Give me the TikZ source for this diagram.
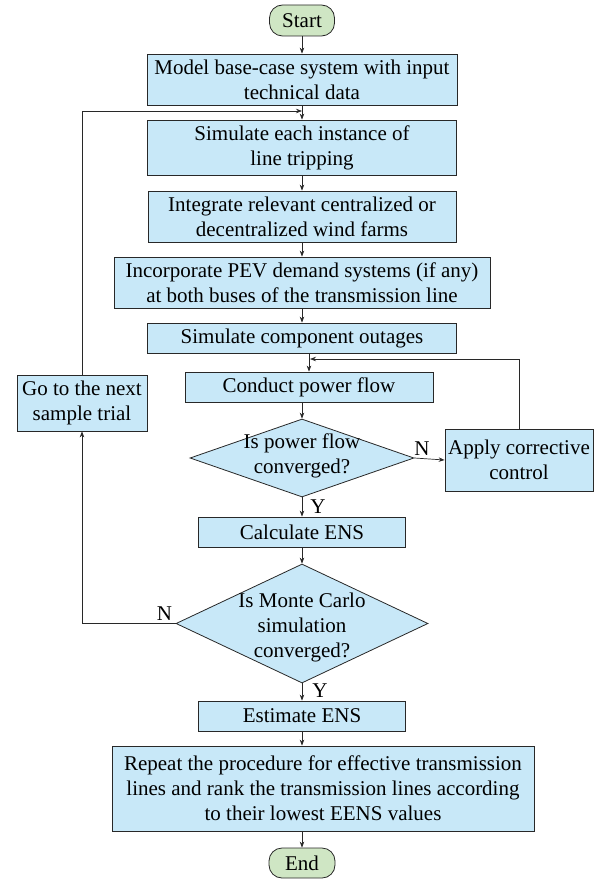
\documentclass[tikz,border=0pt]{standalone}
\usepackage{fontspec}
\setmainfont{Liberation Serif}
\usepackage{tikz}
\usetikzlibrary{arrows.meta}
\usetikzlibrary{shapes.geometric}
\usepackage{xcolor}

\definecolor{procblue}{RGB}{200,232,248}
\definecolor{termgreen}{RGB}{207,230,196}
\definecolor{edgegray}{RGB}{40,40,40}

\tikzset{
  proc/.style={draw=edgegray,line width=0.8pt,fill=procblue,align=center,inner sep=0pt},
  term/.style={proc,fill=termgreen,rounded corners=13pt},
  decision/.style={draw=edgegray,line width=0.8pt,fill=procblue,diamond,inner sep=0pt},
  flow/.style={draw=edgegray,line width=0.7pt,->},
  tag/.style={inner sep=1pt}
}

\begin{document}
\begin{tikzpicture}[x=1pt,y=-1pt,>={Stealth[length=6pt,width=4.5pt]},font=\fontsize{21}{25}\selectfont]
  \useasboundingbox (0,0) rectangle (600,880);

  \node[term,minimum width=65pt,minimum height=31pt] (start) at (302,20.5) {Start};
  \node[proc,minimum width=310pt,minimum height=51pt] (model) at (302,79.5) {Model base-case system with input\\technical data};
  \node[proc,minimum width=309pt,minimum height=55pt] (siminst) at (302,147.5) {Simulate each instance of\\line tripping};
  \node[proc,minimum width=308pt,minimum height=51pt] (integrate) at (302,216.5) {Integrate relevant centralized or\\decentralized wind farms};
  \node[proc,minimum width=376pt,minimum height=51pt] (incorporate) at (302,282.5) {Incorporate PEV demand systems (if any)\\at both buses of the transmission line};
  \node[proc,minimum width=309pt,minimum height=30pt] (simcomp) at (302,338) {Simulate component outages};
  \node[proc,minimum width=248pt,minimum height=30pt] (conduct) at (309,387) {Conduct power flow};
  \node[decision,minimum width=224pt,minimum height=78pt,
    label={[align=center,yshift=2pt]center:Is power flow\\converged?}] (pfconv) at (302,458) {};
  \node[proc,minimum width=148pt,minimum height=62pt] (apply) at (519,460) {Apply corrective\\control};
  \node[proc,minimum width=130pt,minimum height=56pt] (goto) at (82,403) {Go to the next\\sample trial};
  \node[proc,minimum width=207pt,minimum height=30pt] (calc) at (302,532) {Calculate ENS};
  \node[decision,minimum width=252pt,minimum height=119pt,
    label={[align=center,yshift=-4pt]center:Is Monte Carlo\\simulation\\converged?}] (mcconv) at (302,623.5) {};
  \node[proc,minimum width=207pt,minimum height=30pt] (estimate) at (302,716) {Estimate ENS};
  \node[proc,minimum width=422pt,minimum height=85pt] (repeat) at (323,788.5) {Repeat the procedure for effective transmission\\lines and rank the transmission lines according\\to their lowest EENS values};
  \node[term,minimum width=66pt,minimum height=30pt] (end) at (302,863) {End};

  \coordinate (loopjoin) at (302,111);
  \coordinate (fbjoin) at (310,359);

  % main column
  \draw[flow] (start) -- (model);
  \draw[flow] (model) -- (siminst);
  \draw[flow] (siminst) -- (integrate);
  \draw[flow] (integrate) -- (incorporate);
  \draw[flow] (incorporate) -- (simcomp);
  \draw[flow] (simcomp.south -| conduct.north) -- (conduct.north);
  \draw[flow] (conduct.south -| pfconv.north) -- (pfconv.north);
  \draw[flow] (pfconv) -- node[tag,right=7pt] {Y} (calc);
  \draw[flow] (calc) -- (mcconv);
  \draw[flow] (mcconv) -- node[tag,pos=0.4,right=9pt] {Y} (estimate);
  \draw[flow] (estimate.south) -- (estimate.south |- repeat.north);
  \draw[flow] (repeat.south -| end.north) -- (end.north);

  % loops
  \draw[flow] (pfconv.east) -- node[tag,pos=0.25,above=2pt] {N} (apply.west);
  \draw[flow] (apply.north) |- (fbjoin);
  \draw[flow] (mcconv.west) -| node[tag,pos=0.06,above=2pt] {N} (goto.south);
  \draw[flow] (goto.north) |- (loopjoin);
\end{tikzpicture}
\end{document}
